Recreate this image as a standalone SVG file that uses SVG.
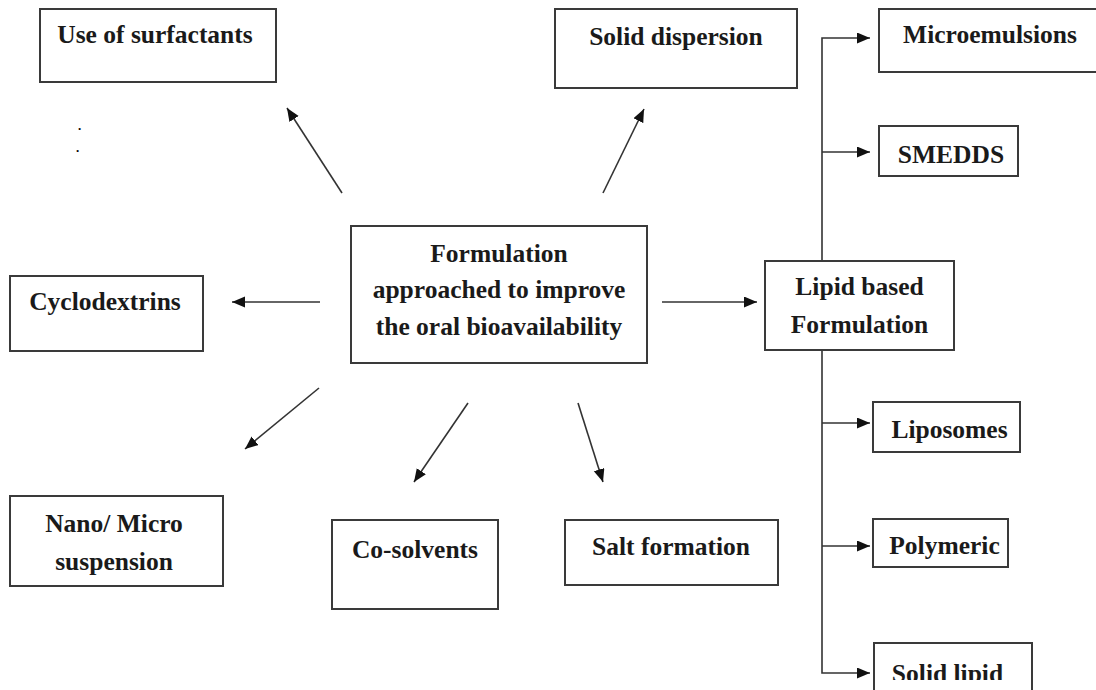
<svg xmlns="http://www.w3.org/2000/svg" width="1096" height="690" viewBox="0 0 1096 690">
<style>
.box{fill:#fff;stroke:#3a3a3a;stroke-width:2}
.t{font-family:"Liberation Serif","Times New Roman",serif;font-weight:bold;font-size:25.5px;fill:#1a1a1a;text-anchor:middle}
.c{fill:none;stroke:#333;stroke-width:1.6}
.dot{font-family:"Liberation Serif",serif;font-weight:bold;font-size:13px;fill:#000}
</style>
<defs>
<marker id="ah" markerUnits="userSpaceOnUse" markerWidth="14" markerHeight="12" refX="13" refY="5.5" orient="auto">
<path d="M0,0 L13,5.5 L0,11 z" fill="#111"/>
</marker>
<clipPath id="clipSL"><rect x="870" y="640" width="170" height="40"/></clipPath>
</defs>
<rect width="1096" height="690" fill="#fff"/>

<g id="connectors">
<line class="c" x1="342" y1="193" x2="287" y2="108" marker-end="url(#ah)"/>
<line class="c" x1="603" y1="193" x2="644" y2="109" marker-end="url(#ah)"/>
<line class="c" x1="320" y1="302" x2="232" y2="302" marker-end="url(#ah)"/>
<line class="c" x1="662" y1="302" x2="757" y2="302" marker-end="url(#ah)"/>
<line class="c" x1="319" y1="388" x2="245" y2="449" marker-end="url(#ah)"/>
<line class="c" x1="468" y1="403" x2="414" y2="482" marker-end="url(#ah)"/>
<line class="c" x1="578" y1="403" x2="603" y2="482" marker-end="url(#ah)"/>
<path class="c" d="M822,261 V38 H870" marker-end="url(#ah)"/>
<path class="c" d="M822,152 H870" marker-end="url(#ah)"/>
<path class="c" d="M822,350 V673 H870" marker-end="url(#ah)"/>
<path class="c" d="M822,423 H870" marker-end="url(#ah)"/>
<path class="c" d="M822,546 H870" marker-end="url(#ah)"/>
</g>

<g id="center">
<rect class="box" x="351" y="226" width="296" height="137"/>
<text class="t" x="499" y="262">Formulation</text>
<text class="t" x="499" y="298">approached to improve</text>
<text class="t" x="499" y="335">the oral bioavailability</text>
</g>

<g id="surfactants">
<rect class="box" x="40" y="9" width="236" height="73"/>
<text class="t" x="155" y="43">Use of surfactants</text>
</g>

<g id="dots">
<text class="dot" x="78" y="129.5">.</text>
<text class="dot" x="76" y="151.5">.</text>
</g>

<g id="soliddispersion">
<rect class="box" x="555" y="9" width="242" height="79"/>
<text class="t" x="676" y="45">Solid dispersion</text>
</g>

<g id="cyclodextrins">
<rect class="box" x="10" y="276" width="193" height="75"/>
<text class="t" x="105" y="310">Cyclodextrins</text>
</g>

<g id="nano">
<rect class="box" x="10" y="496" width="213" height="90"/>
<text class="t" x="114" y="532">Nano/ Micro</text>
<text class="t" x="114" y="570">suspension</text>
</g>

<g id="cosolvents">
<rect class="box" x="332" y="520" width="166" height="89"/>
<text class="t" x="415" y="558">Co-solvents</text>
</g>

<g id="salt">
<rect class="box" x="565" y="520" width="213" height="65"/>
<text class="t" x="671" y="555">Salt formation</text>
</g>

<g id="lipid">
<rect class="box" x="765" y="261" width="189" height="89"/>
<text class="t" x="859.5" y="295">Lipid based</text>
<text class="t" x="859.5" y="333">Formulation</text>
</g>

<g id="microemulsions">
<rect class="box" x="879" y="9" width="225" height="63"/>
<text class="t" x="990" y="43">Microemulsions</text>
</g>

<g id="smedds">
<rect class="box" x="879" y="126" width="139" height="50"/>
<text class="t" x="951" y="163">SMEDDS</text>
</g>

<g id="liposomes">
<rect class="box" x="873" y="402" width="147" height="50"/>
<text class="t" x="949.5" y="438">Liposomes</text>
</g>

<g id="polymeric">
<rect class="box" x="873" y="519" width="135" height="48"/>
<text class="t" x="944.5" y="554">Polymeric</text>
</g>

<g id="solidlipid">
<rect class="box" x="874" y="643" width="158" height="60"/>
<text class="t" x="947.5" y="682" clip-path="url(#clipSL)">Solid lipid</text>
</g>
</svg>
